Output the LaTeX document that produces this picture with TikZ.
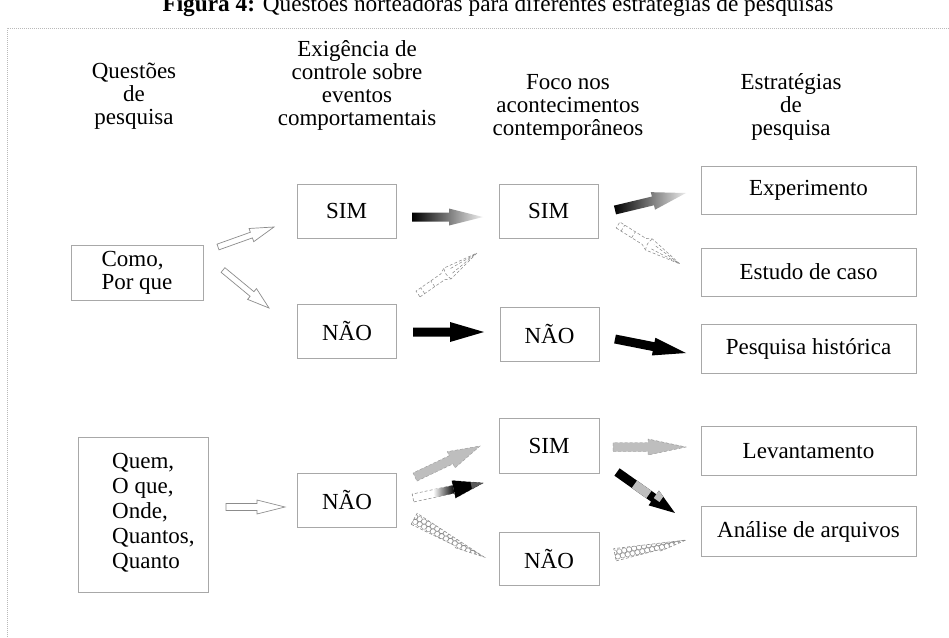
\documentclass[tikz,border=0pt]{standalone}
\usepackage{fontspec}
\setmainfont{Liberation Serif}
\usetikzlibrary{calc}

\definecolor{boxline}{HTML}{A8A8A8}
\definecolor{arrline}{HTML}{8C8C8C}
\definecolor{midgray}{HTML}{BEBEBE}

% Set up a local frame running from #1 to #2 (x along the arrow, in pt),
% then draw #3 in it. \baLen holds the arrow length.
\newcommand\arrowframe[3]{%
  \path let \p1=(#1), \p2=(#2) in \pgfextra{%
    \pgfmathsetmacro\tmpang{atan2(\y2-\y1,\x2-\x1)}%
    \pgfmathsetmacro\tmplen{veclen(\x2-\x1,\y2-\y1)}%
    \global\let\baAng\tmpang \global\let\baLen\tmplen};
  \begin{scope}[shift={(#1)},rotate=\baAng,x=1pt,y=1pt]
    #3
  \end{scope}}

% block arrow outline: shaft half width, head length, head half width
\def\blk#1#2#3{(0,-#1) -- (\baLen-#2,-#1) -- (\baLen-#2,-#3) -- (\baLen,0)
  -- (\baLen-#2,#3) -- (\baLen-#2,#1) -- (0,#1) -- cycle}

% dashed "pencil" arrow
\def\pencil{%
  \draw[pencilline] (0,-3.5) -- (0.42*\baLen,-3.5) -- (0.5*\baLen,-6.5) -- (\baLen,0)
     -- (0.5*\baLen,6.5) -- (0.42*\baLen,3.5) -- (0,3.5) -- cycle;
  \draw[pencilline] (0.08*\baLen,-3.5) -- (0.08*\baLen,3.5)
     (0.25*\baLen,-3.5) -- (0.25*\baLen,3.5)
     (0.5*\baLen,-6.5) to[bend left=25] (0.5*\baLen,6.5)
     (0.56*\baLen,-2.5) -- (0.97*\baLen,0) -- (0.56*\baLen,2.5);}

% wedge filled with small rings
\def\wedgepath{(0,-6) -- (0.6*\baLen,-4) -- (0.63*\baLen,-5.5) -- (\baLen,0) -- (0,6.5) -- cycle}
\def\hexwedge{%
  \begin{scope}
    \clip \wedgepath;
    \foreach \k in {0,...,16} {
      \draw[arrline, line width=0.45pt] (\k*5,2.6) circle (2.6) (\k*5+2.5,-2.0) circle (2.6);}
  \end{scope}
  \draw[arrline, densely dashed, line width=0.6pt] \wedgepath;}

\begin{document}
\begin{tikzpicture}[x=1pt, y=-1pt,
  txt/.style={font=\fontsize{23}{23}\selectfont, inner sep=0pt},
  head/.style={txt, align=center},
  box/.style={draw=boxline, line width=0.9pt, txt},
  outlinearr/.style={draw=arrline, fill=white, line width=0.7pt},
  pencilline/.style={draw=arrline, densely dashed, line width=0.55pt, fill=white}]

\useasboundingbox (0,0) rectangle (949,637);
\fill[white] (0,0) rectangle (949,637);

% caption (runs off the top edge)
\node[txt, font=\fontsize{23.3}{24}\selectfont, anchor=base] (title) at (498,12)
  {\textbf{Figura 4:} Questões norteadoras para diferentes estratégias de pesquisas};

% dotted frame
\draw[gray!55, dash pattern=on 1pt off 1pt, line width=0.6pt] (7,637) -- (7,28) -- (949,28);

% column headings
\node[head] (h1) at (134,96) {Questões\\de\\pesquisa};
\node[head] (h2) at (357,85) {Exigência de\\controle sobre\\eventos\\comportamentais};
\node[head] (h3) at (568,107) {Foco nos\\acontecimentos\\contemporâneos};
\node[head] (h4) at (791,107) {Estratégias\\de\\pesquisa};

% boxes
\node[box, minimum width=132pt, minimum height=55pt, align=left,
      font=\fontsize{23}{23}\selectfont] (como) at (137,272.5) {Como,\\Por que};
\node[box, minimum width=99pt, minimum height=54pt] (sim1) at (346.5,211) {SIM};
\node[box, minimum width=99pt, minimum height=54pt] (nao1) at (347,331) {NÃO};
\node[box, minimum width=99pt, minimum height=54pt] (sim2) at (548.5,211) {SIM};
\node[box, minimum width=99pt, minimum height=54pt] (nao2) at (549.5,334) {NÃO};
\node[box, minimum width=215pt, minimum height=48pt] (exp) at (808.5,190) {Experimento};
\node[box, minimum width=215pt, minimum height=48pt] (est) at (808.5,272) {Estudo de caso};
\node[box, minimum width=215pt, minimum height=49pt] (pesq) at (808.5,348.5) {Pesquisa histórica};

\node[box, minimum width=130pt, minimum height=155pt] (quem) at (143,514.5) {};
\node[txt, align=left, anchor=west, font=\fontsize{23}{25}\selectfont] (quemtext) at (112,513)
  {Quem,\\O que,\\Onde,\\Quantos,\\Quanto};
\node[box, minimum width=99pt, minimum height=54pt] (nao3) at (347,500) {NÃO};
\node[box, minimum width=100pt, minimum height=55pt] (sim3) at (549,445.5) {SIM};
\node[box, minimum width=100pt, minimum height=53pt] (nao4) at (549,558.5) {NÃO};
\node[box, minimum width=215pt, minimum height=49pt] (lev) at (808.5,451) {Levantamento};
\node[box, minimum width=215pt, minimum height=50pt] (ana) at (808.5,531.5) {Análise de arquivos};

% arrow end points
\coordinate (a1s) at (218,247);  \coordinate (a1e) at (274,227);
\coordinate (a2s) at (223,270);  \coordinate (a2e) at (269,308);
\coordinate (a3s) at (412,217);  \coordinate (a3e) at (483,217);
\coordinate (a4s) at (413,332);  \coordinate (a4e) at (484,332);
\coordinate (a5s) at (418,294);  \coordinate (a5e) at (477,253);
\coordinate (a6s) at (615,210);  \coordinate (a6e) at (686,193);
\coordinate (a7s) at (618,225);  \coordinate (a7e) at (680,264);
\coordinate (a8s) at (615,339);  \coordinate (a8e) at (686,353);
\coordinate (a9s) at (226,507);  \coordinate (a9e) at (285,507);
\coordinate (a10s) at (415,477); \coordinate (a10e) at (480,446);
\coordinate (a11s) at (413,498); \coordinate (a11e) at (483,483);
\coordinate (a12s) at (414,519); \coordinate (a12e) at (484,557);
\coordinate (a13s) at (613,447); \coordinate (a13e) at (686,447);
\coordinate (a14s) at (617,472); \coordinate (a14e) at (675,513);
\coordinate (a15s) at (615,555); \coordinate (a15e) at (686,540);

% upper part
\arrowframe{a1s}{a1e}{\draw[outlinearr] \blk{3}{24}{7};}
\arrowframe{a2s}{a2e}{\draw[outlinearr] \blk{3}{22}{7};}
\arrowframe{a3s}{a3e}{\shade[left color=black, right color=gray!12] \blk{4.5}{34}{8.5};}
\arrowframe{a4s}{a4e}{\fill[black] \blk{4.5}{34}{10};}
\arrowframe{a5s}{a5e}{\pencil}
\arrowframe{a6s}{a6e}{\shade[left color=black, right color=gray!15] \blk{4.5}{34}{9};}
\arrowframe{a7s}{a7e}{\pencil}
\arrowframe{a8s}{a8e}{\fill[black] \blk{4.5}{33}{9};}

% lower part
\arrowframe{a9s}{a9e}{\draw[outlinearr] \blk{3.5}{28}{7};}
\arrowframe{a10s}{a10e}{\draw[fill=midgray, draw=midgray!80!black, densely dashed, line width=0.4pt] \blk{4.5}{32}{9};}
\arrowframe{a11s}{a11e}{%
  \draw[arrline, densely dashed, fill=white, line width=0.55pt] \blk{4}{30}{9};
  \shade[left color=white, right color=black] (0.3*\baLen,-4) rectangle (\baLen-30,4);
  \fill[black] (\baLen-30,-9) -- (\baLen,0) -- (\baLen-30,9) -- cycle;
  \fill[gray!70!black] (\baLen-12,-3.6) -- (\baLen,0) -- (\baLen-12,3.6) -- cycle;}
\arrowframe{a12s}{a12e}{\hexwedge}
\arrowframe{a13s}{a13e}{\draw[fill=midgray, draw=midgray!75!black, densely dashed, line width=0.4pt] \blk{4.5}{38}{8};}
\arrowframe{a14s}{a14e}{%
  \fill[black] \blk{4.5}{26}{9};
  \fill[midgray] (0.3*\baLen,-4.5) rectangle (0.55*\baLen,4.5);
  \fill[midgray] (\baLen-26,0) -- (\baLen-26,9) -- (\baLen-19,6.6) -- (\baLen-19,0) -- cycle;}
\arrowframe{a15s}{a15e}{\hexwedge}

\end{tikzpicture}
\end{document}
